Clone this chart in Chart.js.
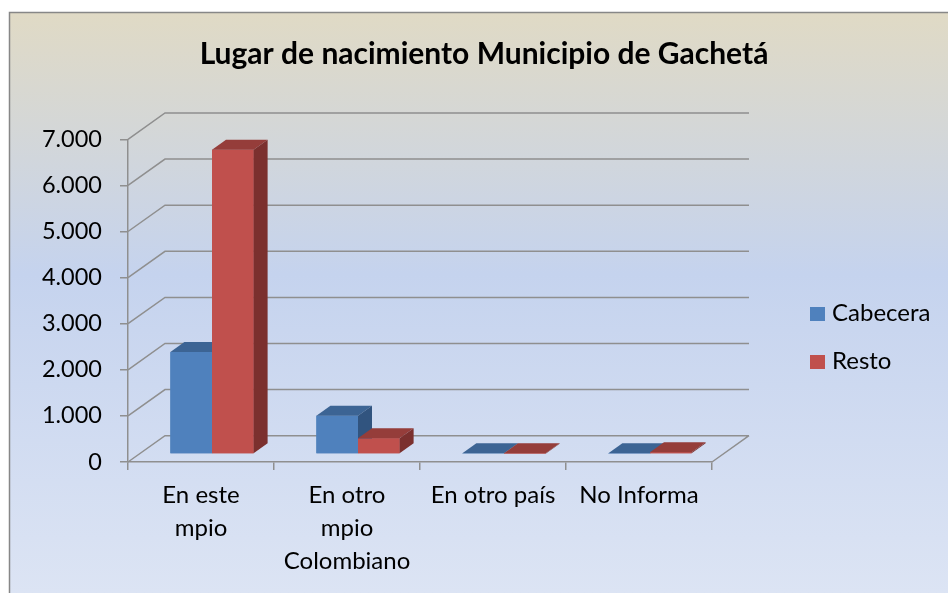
<!DOCTYPE html>
<html><head><meta charset="utf-8">
<script src="https://cdn.jsdelivr.net/npm/chart.js@4.4.0/dist/chart.umd.min.js"></script>
<style>html,body{margin:0;padding:0;background:#fff;overflow:hidden}#wrap{width:948px;height:593px}</style>
</head><body><div id="wrap"><canvas id="c" width="948" height="593"></canvas></div>
<script>
const categories = [['En este', 'mpio'], ['En otro', 'mpio', 'Colombiano'], ['En otro país'], ['No Informa']];
const cabecera = [2210, 830, 12, 10];
const resto = [6600, 340, 8, 40];
const yTickValues = [0, 1000, 2000, 3000, 4000, 5000, 6000, 7000];
const seriesNames = ['Cabecera', 'Resto'];
const chartTitle = 'Lugar de nacimiento Municipio de Gachetá';

const FRONT = ['#4F81BD', '#C0504D'];
const TOP = ['#3C6494', '#953D3A'];
const SIDE = ['#31547F', '#7B302E'];
const GRID = '#8F8F8F';
const WALL_DX = 37, WALL_DY = -26.3;
const BAR_DX = 11, BAR_DY = -8;
const DEPTH_DX = 14, DEPTH_DY = -10;

function fmt(v) { return String(v).replace(/\B(?=(\d{3})+(?!\d))/g, '.'); }

const threeD = {
  id: 'threeD',
  beforeDraw(chart) {
    const ctx = chart.ctx;
    ctx.save();
    ctx.fillStyle = '#ffffff';
    ctx.fillRect(0, 0, chart.width, chart.height);
    const g = ctx.createLinearGradient(0, 13, 0, chart.height);
    g.addColorStop(0, '#E0DAC5');
    g.addColorStop(0.45, '#C5D3EE');
    g.addColorStop(1, '#DCE4F4');
    ctx.fillStyle = g;
    ctx.fillRect(10, 13, chart.width, chart.height);
    ctx.strokeStyle = '#878787';
    ctx.lineWidth = 1.5;
    ctx.beginPath();
    ctx.moveTo(9.5, chart.height + 2);
    ctx.lineTo(9.5, 12.5);
    ctx.lineTo(chart.width + 2, 12.5);
    ctx.stroke();
    ctx.restore();
  },
  beforeDatasetsDraw(chart) {
    const ctx = chart.ctx;
    const ys = chart.scales.y, area = chart.chartArea;
    ctx.save();
    ctx.strokeStyle = GRID;
    ctx.lineWidth = 1.5;
    ctx.beginPath();
    yTickValues.forEach(v => {
      const y = ys.getPixelForValue(v);
      ctx.moveTo(area.left, y);
      ctx.lineTo(area.left + WALL_DX, y + WALL_DY);
      ctx.lineTo(area.right + WALL_DX, y + WALL_DY);
    });
    const y0 = ys.getPixelForValue(0);
    ctx.moveTo(area.right, y0);
    ctx.lineTo(area.right + WALL_DX, y0 + WALL_DY);
    ctx.stroke();
    ctx.restore();
    ctx.save();
    ctx.translate(BAR_DX, BAR_DY);
  },
  afterDatasetsDraw(chart) {
    const ctx = chart.ctx;
    const n = categories.length;
    for (let i = 0; i < n; i++) {
      for (let d = 0; d < 2; d++) {
        const el = chart.getDatasetMeta(d).data[i];
        const left = el.x - el.width / 2, right = el.x + el.width / 2;
        const top = Math.min(el.y, el.base), bottom = Math.max(el.y, el.base);
        ctx.fillStyle = FRONT[d];
        ctx.fillRect(left, top, right - left, bottom - top);
        ctx.fillStyle = TOP[d];
        ctx.beginPath();
        ctx.moveTo(left, top);
        ctx.lineTo(left + DEPTH_DX, top + DEPTH_DY);
        ctx.lineTo(right + DEPTH_DX, top + DEPTH_DY);
        ctx.lineTo(right, top);
        ctx.closePath();
        ctx.fill();
        ctx.fillStyle = SIDE[d];
        ctx.beginPath();
        ctx.moveTo(right, top);
        ctx.lineTo(right + DEPTH_DX, top + DEPTH_DY);
        ctx.lineTo(right + DEPTH_DX, bottom + DEPTH_DY);
        ctx.lineTo(right, bottom);
        ctx.closePath();
        ctx.fill();
      }
    }
    ctx.restore();
  },
  afterDraw(chart) {
    const ctx = chart.ctx;
    ctx.save();
    ctx.fillStyle = '#000';
    ctx.textAlign = 'center';
    ctx.textBaseline = 'alphabetic';
    ctx.font = 'bold 30px Lato';
    ctx.fillText(chartTitle, 484, 64);
    ctx.textAlign = 'left';
    ctx.font = '24px Lato';
    const rows = [321, 369];
    seriesNames.forEach((s, k) => {
      ctx.fillStyle = FRONT[k];
      ctx.fillRect(810, rows[k] - 14, 15, 14);
      ctx.fillStyle = '#000';
      ctx.fillText(s, 832, rows[k]);
    });
    ctx.restore();
  }
};

function build() {
  Chart.defaults.font.family = 'Lato';
  Chart.defaults.font.size = 24;
  Chart.defaults.color = '#000';
  new Chart(document.getElementById('c'), {
    type: 'bar',
    data: {
      labels: categories,
      datasets: [
        { label: seriesNames[0], data: cabecera, backgroundColor: FRONT[0] },
        { label: seriesNames[1], data: resto, backgroundColor: FRONT[1] }
      ]
    },
    options: {
      responsive: false,
      animation: false,
      devicePixelRatio: 1,
      layout: { padding: { left: 0, top: 139.3, right: 236, bottom: 0 } },
      categoryPercentage: 0.57,
      barPercentage: 1,
      plugins: { legend: { display: false }, title: { display: false }, tooltip: { enabled: false } },
      scales: {
        x: {
          afterFit(s) { s.height = 131; },
          grid: { drawOnChartArea: false, drawTicks: true, tickLength: 8, color: GRID, lineWidth: 1.5, offset: true },
          border: { display: true, color: GRID, width: 1.5 },
          ticks: { padding: 9, maxRotation: 0, autoSkip: false, font: { size: 24, lineHeight: 1.375 } }
        },
        y: {
          min: 0, max: 7000,
          afterFit(s) { s.width = 128; },
          afterBuildTicks(s) { s.ticks = yTickValues.map(v => ({ value: v })); },
          grid: { drawOnChartArea: false, drawTicks: true, tickLength: 8, color: GRID, lineWidth: 1.5 },
          border: { display: true, color: GRID, width: 1.5 },
          ticks: { padding: 18, callback: v => fmt(v), font: { size: 23.5 } }
        }
      }
    },
    plugins: [threeD]
  });
}
if (document.fonts && document.fonts.load) {
  Promise.all([document.fonts.load('24px Lato'), document.fonts.load('bold 30px Lato')]).then(build, build);
} else build();
</script>
</body></html>
